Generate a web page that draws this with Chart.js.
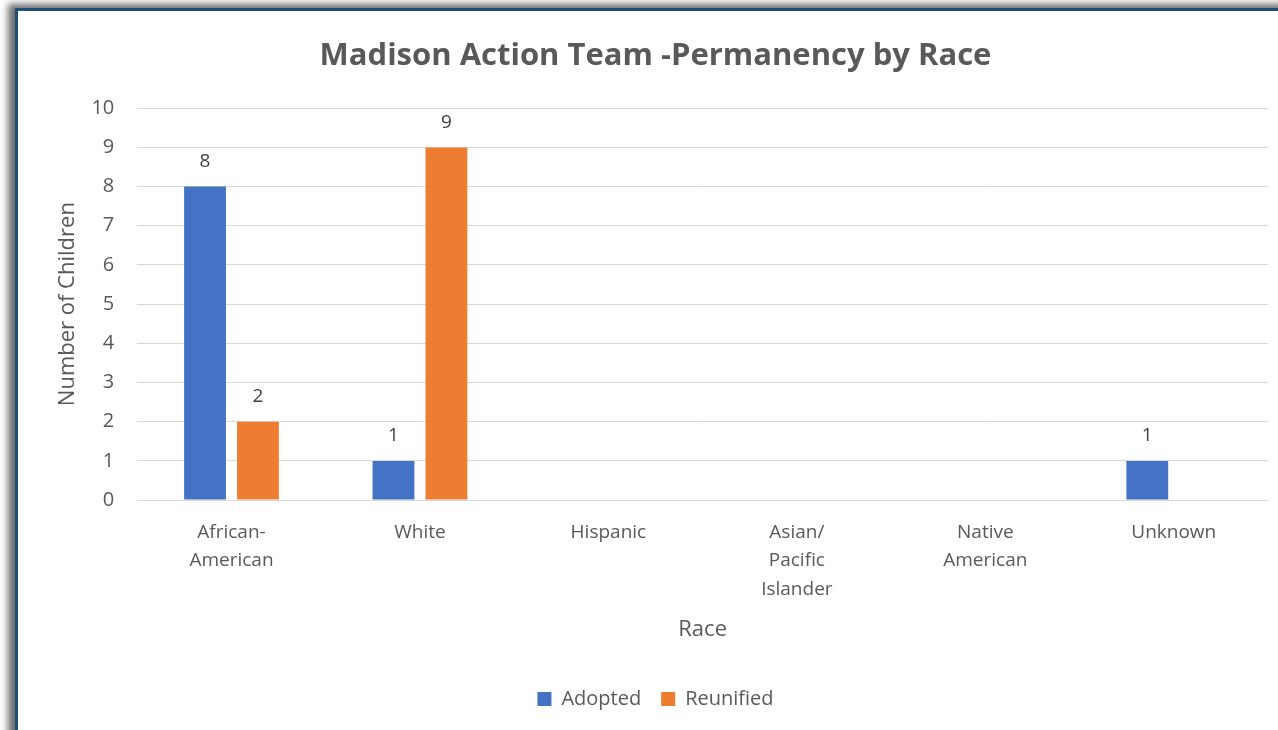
<!DOCTYPE html>
<html>
<head>
<meta charset="utf-8">
<script src="https://cdn.jsdelivr.net/npm/chart.js@4.4.0/dist/chart.umd.min.js"></script>
<style>
  html, body { margin: 0; padding: 0; background: #ffffff; overflow: hidden; }
  body { width: 1278px; height: 730px; position: relative; }
  /* chart frame with dark blue edge and soft shadow at left/top */
  #frame {
    position: absolute;
    left: 15px; top: 8px;
    width: 1280px; height: 740px;
    border-left: 3px solid #1f4e79;
    border-top: 3px solid #1f4e79;
    box-shadow: -7px -4px 7px rgba(60,60,60,0.75);
    background: #ffffff;
  }
  #wrap { position: absolute; left: 18px; top: 11px; width: 1260px; height: 719px; }
</style>
</head>
<body>
<div id="frame"></div>
<div id="wrap"><canvas id="raceChart"></canvas></div>
<script>
/*
  Madison Action Team - permanency by race
*/

const categories = [
    ["African-", "American"],
    ["White"],
    ["Hispanic"],
    ["Asian/", "Pacific", "Islander"],
    ["Native", "American"],
    ["Unknown"]
];

const adopted = [8, 1, 0, 0, 0, 1];

const reunified = [2, 9, 0, 0, 0, 0];

const yTicks = [0, 1, 2, 3, 4, 5, 6, 7, 8, 9, 10];

const FONT = "'Open Sans', 'Liberation Sans', sans-serif";
const GREY = "#595959";

/* values above bars, zeros are left out */
const barValues = {
    id: "barValues",
    afterDatasetsDraw(chart) {
        const ctx = chart.ctx;
        ctx.save();
        ctx.font = "19px " + FONT;
        ctx.fillStyle = "#404040";
        ctx.textAlign = "center";
        ctx.textBaseline = "middle";
        chart.data.datasets.forEach((ds, i) => {
            chart.getDatasetMeta(i).data.forEach((bar, j) => {
                if (!ds.data[j]) return;
                ctx.fillText(String(ds.data[j]), bar.x, bar.y - 25);
            });
        });
        ctx.restore();
    }
};

function initializeChart() {

    const ctx = document.getElementById("raceChart").getContext("2d");

    return new Chart(ctx, {
        type: "bar",
        data: {
            labels: categories,
            datasets: [
                {
                    label: "Adopted",
                    data: adopted,
                    backgroundColor: "#4472c4",
                    categoryPercentage: 0.562,
                    barPercentage: 0.79
                },
                {
                    label: "Reunified",
                    data: reunified,
                    backgroundColor: "#ed7d31",
                    categoryPercentage: 0.562,
                    barPercentage: 0.79
                }
            ]
        },
        plugins: [barValues],
        options: {
            responsive: true,
            maintainAspectRatio: false,
            animation: false,
            layout: {
                padding: { left: 25, right: 10, top: 27, bottom: 11 }
            },
            plugins: {
                title: {
                    display: true,
                    text: "Madison Action Team -Permanency by Race",
                    color: GREY,
                    font: { family: FONT, size: 31, weight: "bold" },
                    padding: { top: 0, bottom: 33 }
                },
                legend: {
                    display: true,
                    position: "bottom",
                    labels: {
                        color: GREY,
                        font: { family: FONT, size: 20 },
                        boxWidth: 14,
                        boxHeight: 14,
                        padding: 20
                    }
                },
                tooltip: { enabled: false }
            },
            scales: {
                x: {
                    grid: { display: false },
                    border: { display: true, color: "#d9d9d9" },
                    ticks: {
                        color: GREY,
                        font: { family: FONT, size: 19, lineHeight: 1.5 },
                        padding: 10,
                        maxRotation: 0
                    },
                    title: {
                        display: true,
                        text: "Race",
                        color: GREY,
                        font: { family: FONT, size: 22 },
                        padding: { top: 3, bottom: 26 }
                    }
                },
                y: {
                    min: 0,
                    max: 10,
                    afterBuildTicks: (axis) => {
                        axis.ticks = yTicks.map(v => ({ value: v }));
                    },
                    grid: { color: "#d9d9d9", drawTicks: false },
                    border: { display: false },
                    ticks: {
                        color: GREY,
                        font: { family: FONT, size: 20 },
                        padding: 23
                    },
                    title: {
                        display: true,
                        text: "Number of Children",
                        color: GREY,
                        font: { family: FONT, size: 22 },
                        padding: { top: 12, bottom: -13 }
                    }
                }
            }
        }
    });
}

initializeChart();
</script>
</body>
</html>
